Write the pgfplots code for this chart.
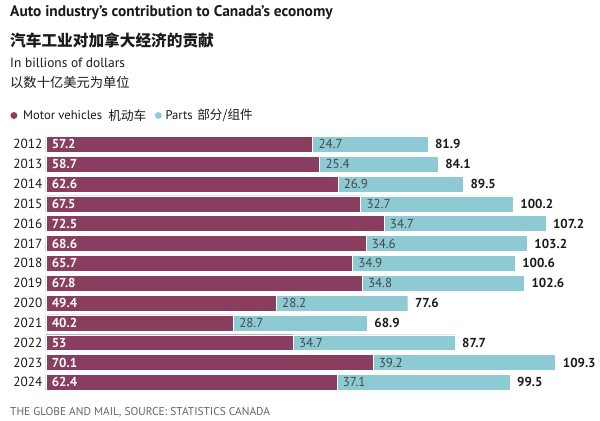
\documentclass[border=0pt]{standalone}
\usepackage{pgfplots}
\pgfplotsset{compat=1.18}
\usepackage{pgfplotstable}
\usepackage{fontspec}
\setmainfont{PT Sans}
\newfontfamily\cjk{Noto Sans CJK SC}
\definecolor{mv}{HTML}{893D5F}
\definecolor{pt}{HTML}{8ECAD4}
\definecolor{txt}{HTML}{1A1A1A}
\definecolor{foot}{HTML}{666666}
\pgfplotstableread{
year mv parts total
2012 57.2 24.7 81.9
2013 58.7 25.4 84.1
2014 62.6 26.9 89.5
2015 67.5 32.7 100.2
2016 72.5 34.7 107.2
2017 68.6 34.6 103.2
2018 65.7 34.9 100.6
2019 67.8 34.8 102.6
2020 49.4 28.2 77.6
2021 40.2 28.7 68.9
2022 53 34.7 87.7
2023 70.1 39.2 109.3
2024 62.4 37.1 99.5
}\data
\begin{document}
\begin{tikzpicture}
\path (0,0) rectangle (450pt,-316.5pt);
\node[anchor=west, inner sep=0, text=txt] at (7.5pt,-9.75pt) {\fontsize{11.6}{13}\selectfont\bfseries Auto industry’s contribution to Canada’s economy};
\node[anchor=west, inner sep=0, text=txt] at (7.5pt,-30.75pt) {\fontsize{11.8}{13}\selectfont\cjk\bfseries 汽车工业对加拿大经济的贡献};
\node[anchor=west, inner sep=0, text=txt] at (7.5pt,-47.25pt) {\fontsize{10.1}{11}\selectfont In billions of dollars};
\node[anchor=west, inner sep=0, text=txt] at (7.5pt,-62.25pt) {\fontsize{10}{11}\selectfont\cjk 以数十亿美元为单位};
\fill[mv] (10.5pt,-87pt) circle (2.6pt);
\node[anchor=west, inner sep=0, text=txt] at (17.25pt,-87pt) {\fontsize{9.5}{11}\selectfont Motor vehicles};
\node[anchor=west, inner sep=0, text=txt] at (81.5pt,-87pt) {\fontsize{9.5}{11}\selectfont\cjk 机动车};
\fill[pt] (119.25pt,-87pt) circle (2.6pt);
\node[anchor=west, inner sep=0, text=txt] at (124.5pt,-87pt) {\fontsize{9.5}{11}\selectfont Parts};
\node[anchor=west, inner sep=0, text=txt] at (148.5pt,-87pt) {\fontsize{9.5}{11}\selectfont\cjk 部分/组件};
\node[anchor=west, inner sep=0, text=foot] at (7.5pt,-310.5pt) {\fontsize{8.6}{10}\selectfont THE GLOBE AND MAIL, SOURCE: STATISTICS CANADA};
\begin{axis}[
  at={(34.5pt,-101.25pt)}, anchor=north west,
  scale only axis, width=415.5pt, height=194.25pt,
  xmin=0, xmax=118.25, ymin=2011.5, ymax=2024.5,
  y dir=reverse, clip=false,
  axis line style={draw=none}, major tick length=0pt,
  xtick=\empty, ytick={2012,...,2024},
  /pgf/number format/assume math mode=true,
  yticklabel style={/pgf/number format/1000 sep={}, font=\fontsize{10}{11}\selectfont, text=txt, xshift=1pt},
]
\addplot[xbar, bar shift=0pt, bar width=12pt, fill=pt, draw=white, line width=0.3pt,
  nodes near coords, point meta=explicit symbolic,
  nodes near coords style={anchor=west, text=txt, font=\fontsize{9.8}{11}\selectfont\bfseries, xshift=2pt}]
  table[x=total, y=year, meta=total] {\data};
\addplot[xbar, bar shift=0pt, bar width=12pt, fill=mv, draw=white, line width=0.3pt]
  table[x=mv, y=year] {\data};
\addplot[draw=none, mark=none, nodes near coords, point meta=explicit symbolic,
  nodes near coords style={anchor=west, text=white, font=\fontsize{9.8}{11}\selectfont\bfseries, xshift=1pt}]
  table[x expr=0, y=year, meta=mv] {\data};
\addplot[draw=none, mark=none, nodes near coords, point meta=explicit symbolic,
  nodes near coords style={anchor=west, text=txt!80, font=\fontsize{9.8}{11}\selectfont, xshift=1pt}]
  table[x=mv, y=year, meta=parts] {\data};
\end{axis}
\end{tikzpicture}
\end{document}
